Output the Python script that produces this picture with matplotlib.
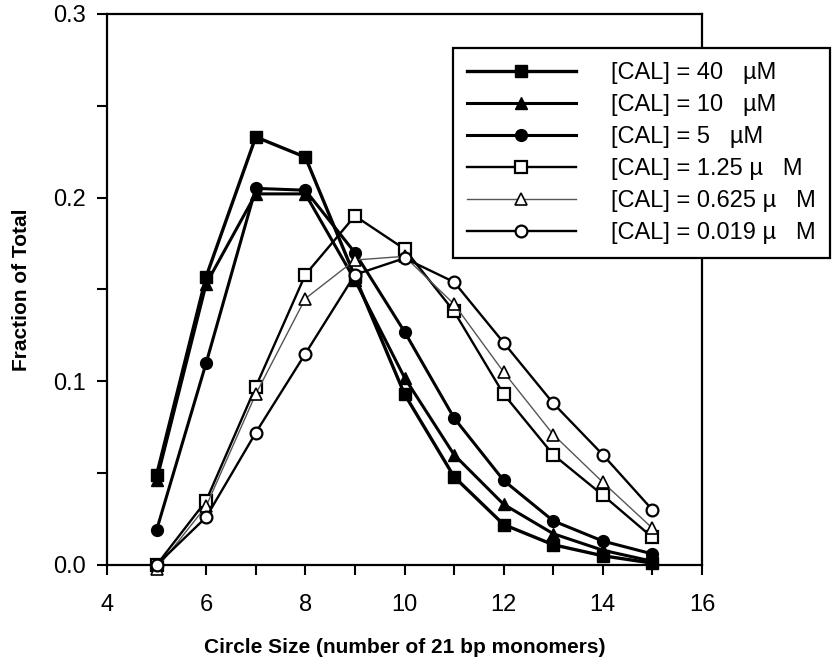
#
# Imports
#
import matplotlib
matplotlib.use("Agg")
import matplotlib.pyplot as plt
from matplotlib.ticker import MultipleLocator

plt.rcParams['font.family'] = ['Liberation Sans', 'DejaVu Sans']

# circle size (number of 21 bp monomers)
sizes = [5, 6, 7, 8, 9, 10, 11, 12, 13, 14, 15]

# fraction of total, one list per [CAL]
cal_40 = [0.049, 0.157, 0.233, 0.222, 0.157, 0.093, 0.048, 0.022, 0.011, 0.005, 0.001]
cal_10 = [0.046, 0.153, 0.202, 0.202, 0.155, 0.102, 0.060, 0.033, 0.017, 0.008, 0.002]
cal_5 = [0.019, 0.110, 0.205, 0.204, 0.170, 0.127, 0.080, 0.046, 0.024, 0.013, 0.006]
cal_1_25 = [0.000, 0.035, 0.097, 0.158, 0.190, 0.172, 0.138, 0.093, 0.060, 0.038, 0.015]
cal_0_625 = [-0.002, 0.032, 0.093, 0.145, 0.166, 0.168, 0.142, 0.105, 0.071, 0.045, 0.020]
cal_0_019 = [0.000, 0.026, 0.072, 0.115, 0.158, 0.167, 0.154, 0.121, 0.088, 0.060, 0.030]

labels = ["[CAL] = 40   \u00b5M",
          "[CAL] = 10   \u00b5M",
          "[CAL] = 5   \u00b5M",
          "[CAL] = 1.25 \u00b5   M",
          "[CAL] = 0.625 \u00b5   M",
          "[CAL] = 0.019 \u00b5   M"]

#
# Plot
#
fig = plt.figure(figsize=(8.4, 6.6), dpi=100)
ax = fig.add_axes([0.1274, 0.144, 0.7083, 0.835])

# filled markers, heavy lines
ax.plot(sizes, cal_40, color='black', lw=2.4, marker='s', ms=8.5, mfc='black', mec='black', label=labels[0], clip_on=False, zorder=3)
ax.plot(sizes, cal_10, color='black', lw=2.2, marker='^', ms=9, mfc='black', mec='black', label=labels[1], clip_on=False, zorder=3)
ax.plot(sizes, cal_5, color='black', lw=2.2, marker='o', ms=8.5, mfc='black', mec='black', label=labels[2], clip_on=False, zorder=3)

# open markers, lighter lines
ax.plot(sizes, cal_1_25, color='black', lw=1.7, marker='s', ms=8.5, mfc='white', mec='black', mew=1.6, label=labels[3], clip_on=False, zorder=4)
ax.plot(sizes, cal_0_625, color='#555555', lw=1.0, marker='^', ms=8.5, mfc='white', mec='black', mew=1.2, label=labels[4], clip_on=False, zorder=4)
ax.plot(sizes, cal_0_019, color='black', lw=1.7, marker='o', ms=8.5, mfc='white', mec='black', mew=1.6, label=labels[5], clip_on=False, zorder=4)

# Axes
ax.set_xlim(4, 16)
ax.set_ylim(0.0, 0.3)
ax.xaxis.set_major_locator(MultipleLocator(2))
ax.xaxis.set_minor_locator(MultipleLocator(1))
ax.yaxis.set_major_locator(MultipleLocator(0.1))
ax.yaxis.set_minor_locator(MultipleLocator(0.05))
ax.set_yticks([0.0, 0.1, 0.2, 0.3])
ax.set_yticklabels(["0.0", "0.1", "0.2", "0.3"])
ax.tick_params(which='both', direction='out', length=7, width=1.5, labelsize=17, top=False, right=False)
ax.tick_params(axis='x', pad=14)
ax.tick_params(axis='y', pad=8)
for sp in ax.spines.values():
    sp.set_linewidth(1.6)

ax.set_xlabel("Circle Size (number of 21 bp monomers)", fontsize=15, fontweight='bold', labelpad=16)
ax.set_ylabel("Fraction of Total", fontsize=15, fontweight='bold', labelpad=16)

# Legend
leg = ax.legend(loc='upper left', bbox_to_anchor=(0.539, 0.927), bbox_transform=fig.transFigure,
                fontsize=17, handlelength=4.6, handletextpad=1.5, labelspacing=0.42,
                borderpad=0.6, borderaxespad=0.0, fancybox=False, framealpha=1.0,
                edgecolor='black')
leg.get_frame().set_linewidth(1.6)

fig.savefig("out.png", dpi=100)
